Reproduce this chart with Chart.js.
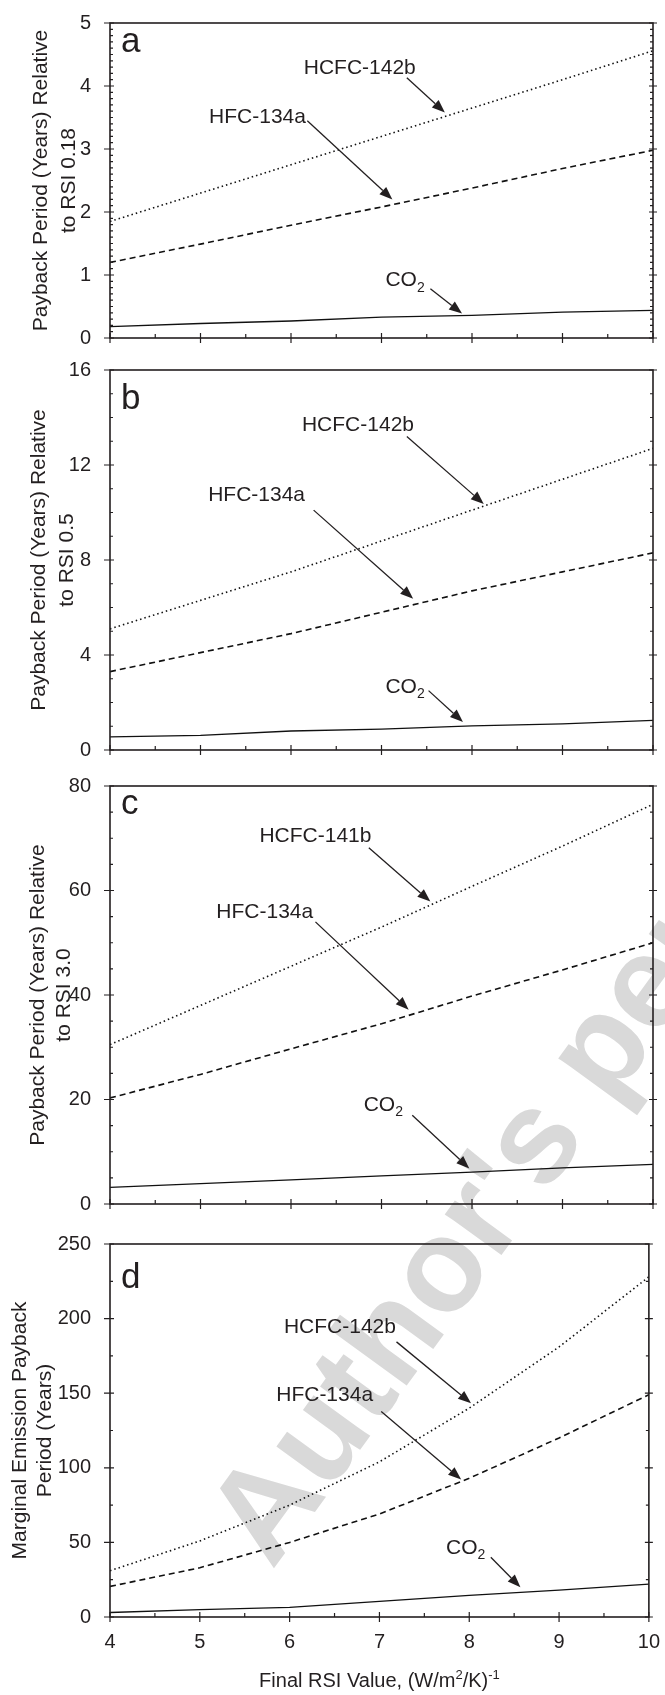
<!DOCTYPE html>
<html>
<head>
<meta charset="utf-8">
<script src="https://cdn.jsdelivr.net/npm/chart.js@4.4.1/dist/chart.umd.min.js"></script>
<style>
  html, body { margin: 0; padding: 0; background: #fff; width: 665px; height: 1695px; overflow: hidden; }
  canvas { position: absolute; left: 0; }
  #bg { top: 0; z-index: 0; }
  .panel { z-index: 1; }
</style>
</head>
<body>
<canvas id="bg" width="665" height="1695"></canvas>
<canvas id="ca" class="panel"></canvas>
<canvas id="cb" class="panel"></canvas>
<canvas id="cc" class="panel"></canvas>
<canvas id="cd" class="panel"></canvas>
<script>
// ---------- dados ----------
const rsiValues = [4, 5, 6, 7, 8, 9, 10];
const xTickLabels = [4, 5, 6, 7, 8, 9, 10];

const yTicksA = [0, 1, 2, 3, 4, 5];
const yTicksB = [0, 4, 8, 12, 16];
const yTicksC = [0, 20, 40, 60, 80];
const yTicksD = [0, 50, 100, 150, 200, 250];

const hcfcA = [1.85, 2.3, 2.75, 3.2, 3.65, 4.1, 4.56];
const hfcA  = [1.2, 1.49, 1.79, 2.08, 2.38, 2.69, 2.98];
const co2A  = [0.18, 0.23, 0.27, 0.33, 0.36, 0.41, 0.44];

const hcfcB = [5.1, 6.3, 7.5, 8.8, 10.1, 11.4, 12.7];
const hfcB  = [3.3, 4.1, 4.9, 5.8, 6.7, 7.5, 8.3];
const co2B  = [0.55, 0.62, 0.8, 0.88, 1.02, 1.1, 1.25];

const hcfcC = [30.5, 38, 45.5, 53, 60.8, 68.5, 76.5];
const hfcC  = [20.3, 24.8, 29.7, 34.5, 39.8, 44.8, 50];
const co2C  = [3.2, 3.9, 4.6, 5.4, 6.1, 6.9, 7.6];

const hcfcD = [31, 51, 75, 104, 140, 181, 228];
const hfcD  = [20.5, 33, 50, 69, 93, 120, 149];
const co2D  = [3, 5, 6.5, 10.5, 14.5, 18, 22];

const INK = '#231f20';
const FONT = "'Liberation Sans', Arial, sans-serif";

// ---------- painéis ----------
const panels = [
  { id: 'ca', top: 18, bottom: 341, yTicks: yTicksA, yMinor: 0.1, letter: 'a', letterBase: 29,
    title: ['Payback Period (Years) Relative', 'to RSI 0.18'], titleX: 41, titleLH: 28,
    series: [hcfcA, hfcA, co2A],
    notes: [
      { text: 'HCFC-142b', x: 6.76, y: 4.29, from: [7.28, 4.13], to: [7.70, 3.58] },
      { text: 'HFC-134a', x: 5.63, y: 3.50, from: [6.18, 3.45], to: [7.12, 2.20] },
      { text: 'CO', sub: '2', x: 7.26, y: 0.91, from: [7.54, 0.78], to: [7.89, 0.39] },
    ] },
  { id: 'cb', top: 369, bottom: 753, yTicks: yTicksB, yMinor: 1, letter: 'b', letterBase: 39,
    title: ['Payback Period (Years) Relative', 'to RSI 0.5'], titleX: 39, titleLH: 28,
    series: [hcfcB, hfcB, co2B],
    notes: [
      { text: 'HCFC-142b', x: 6.74, y: 13.68, from: [7.28, 13.2], to: [8.13, 10.36] },
      { text: 'HFC-134a', x: 5.62, y: 10.73, from: [6.25, 10.1], to: [7.35, 6.37] },
      { text: 'CO', sub: '2', x: 7.26, y: 2.63, from: [7.52, 2.5], to: [7.9, 1.18] },
    ] },
  { id: 'cc', top: 785, bottom: 1207, yTicks: yTicksC, yMinor: 5, letter: 'c', letterBase: 28,
    title: ['Payback Period (Years) Relative', 'to RSI 3.0'], titleX: 38, titleLH: 26,
    series: [hcfcC, hfcC, co2C],
    notes: [
      { text: 'HCFC-141b', x: 6.27, y: 70.4, from: [6.86, 68.2], to: [7.54, 57.9] },
      { text: 'HFC-134a', x: 5.71, y: 55.8, from: [6.27, 54.0], to: [7.30, 37.2] },
      { text: 'CO', sub: '2', x: 7.02, y: 18.9, from: [7.34, 17.0], to: [7.97, 6.8] },
    ] },
  { id: 'cd', top: 1243, bottom: 1617, yTicks: yTicksD, yMinor: 25, letter: 'd', letterBase: 44,
    title: ['Marginal Emission Payback', 'Period (Years)'], titleX: 20, titleLH: 25,
    series: [hcfcD, hfcD, co2D], last: true,
    notes: [
      { text: 'HCFC-142b', x: 6.56, y: 194.4, from: [7.19, 184.4], to: [8.02, 143.3] },
      { text: 'HFC-134a', x: 6.39, y: 148.9, from: [7.02, 137.8], to: [7.91, 92.2] },
      { text: 'CO', sub: '2', x: 7.96, y: 46, from: [8.24, 40], to: [8.57, 20] },
    ] },
];

const PLOT_LEFT = 110, PLOT_RIGHT = 653, PAGE_W = 665, PAGE_H = 1695;

// ---------- moldura, ticks menores, rótulos e setas ----------
function arrow(ctx, x0, y0, x1, y1) {
  const ang = Math.atan2(y1 - y0, x1 - x0);
  const len = 13, half = 5;
  const bx = x1 - len * Math.cos(ang), by = y1 - len * Math.sin(ang);
  ctx.beginPath();
  ctx.moveTo(x0, y0);
  ctx.lineTo(bx, by);
  ctx.lineWidth = 1.3;
  ctx.stroke();
  ctx.beginPath();
  ctx.moveTo(x1, y1);
  ctx.lineTo(bx + half * Math.sin(ang), by - half * Math.cos(ang));
  ctx.lineTo(bx - half * Math.sin(ang), by + half * Math.cos(ang));
  ctx.closePath();
  ctx.fill();
}

const framePlugin = {
  id: 'frame',
  afterDatasetsDraw(chart) {
    const p = chart.options.plugins.frame.panel;
    const { ctx, chartArea: ca, scales: { x, y } } = chart;
    ctx.save();
    ctx.strokeStyle = INK;
    ctx.fillStyle = INK;
    ctx.lineWidth = 1.6;
    ctx.strokeRect(ca.left, ca.top, ca.right - ca.left, ca.bottom - ca.top);

    ctx.lineWidth = 1.2;
    ctx.beginPath();
    // eixo x: maiores cruzando, menores para dentro
    for (let i = 0; i <= 12; i++) {
      const px = x.getPixelForValue(4 + i * 0.5);
      if (i % 2 === 0) { ctx.moveTo(px, ca.bottom - 5); ctx.lineTo(px, ca.bottom + 5); }
      else { ctx.moveTo(px, ca.bottom); ctx.lineTo(px, ca.bottom - 4); }
    }
    // eixos y esquerdo e direito
    const yMax = p.yTicks[p.yTicks.length - 1];
    const n = Math.round(yMax / p.yMinor);
    const majorStep = p.yTicks[1] - p.yTicks[0];
    for (let i = 0; i <= n; i++) {
      const v = i * p.yMinor;
      const py = y.getPixelForValue(v);
      const major = Math.abs(v / majorStep - Math.round(v / majorStep)) < 1e-6;
      if (major) {
        ctx.moveTo(ca.left - 6, py); ctx.lineTo(ca.left + 4, py);
        ctx.moveTo(ca.right - 4, py); ctx.lineTo(ca.right + 4, py);
      } else {
        ctx.moveTo(ca.left, py); ctx.lineTo(ca.left + 3, py);
        ctx.moveTo(ca.right, py); ctx.lineTo(ca.right - 3, py);
      }
    }
    ctx.stroke();

    // letra do painel
    ctx.font = '35px ' + FONT;
    ctx.textAlign = 'left';
    ctx.textBaseline = 'alphabetic';
    ctx.fillText(p.letter, ca.left + 11, ca.top + p.letterBase);

    // rótulos e setas
    for (const nt of p.notes) {
      const cx = x.getPixelForValue(nt.x), cy = y.getPixelForValue(nt.y);
      ctx.font = '21px ' + FONT;
      ctx.textBaseline = 'middle';
      if (nt.sub) {
        const w1 = ctx.measureText(nt.text).width;
        ctx.font = '14px ' + FONT;
        const w2 = ctx.measureText(nt.sub).width;
        const sx = cx - (w1 + w2) / 2;
        ctx.font = '21px ' + FONT;
        ctx.textAlign = 'left';
        ctx.fillText(nt.text, sx, cy);
        ctx.font = '14px ' + FONT;
        ctx.fillText(nt.sub, sx + w1, cy + 7);
      } else {
        ctx.textAlign = 'center';
        ctx.fillText(nt.text, cx, cy);
      }
      arrow(ctx, x.getPixelForValue(nt.from[0]), y.getPixelForValue(nt.from[1]),
                 x.getPixelForValue(nt.to[0]), y.getPixelForValue(nt.to[1]));
    }

    // título do eixo x (com sobrescritos)
    if (p.last) {
      const parts = [['Final RSI Value, (W/m', 0], ['2', 1], ['/K)', 0], ['-1', 1]];
      const big = '20px ' + FONT, small = '13px ' + FONT;
      let total = 0;
      for (const [t, s] of parts) { ctx.font = s ? small : big; total += ctx.measureText(t).width; }
      let tx = (ca.left + ca.right) / 2 - total / 2;
      const ty = ca.bottom + 70;
      ctx.textAlign = 'left';
      ctx.textBaseline = 'alphabetic';
      for (const [t, s] of parts) {
        ctx.font = s ? small : big;
        ctx.fillText(t, tx, s ? ty - 8 : ty);
        tx += ctx.measureText(t).width;
      }
    }
    ctx.restore();
  }
};

function lineSet(values, style) {
  return {
    data: rsiValues.map((v, i) => ({ x: v, y: values[i] })),
    borderColor: '#111',
    borderWidth: style === 'solid' ? 1.3 : 1.6,
    borderDash: style === 'dot' ? [1.5, 3] : style === 'dash' ? [6, 4] : [],
    pointRadius: 0,
    tension: 0,
    fill: false,
  };
}

for (const p of panels) {
  const canvasTop = Math.max(0, p.top - 22);
  const padTop = p.top - canvasTop;
  const padBottom = p.last ? PAGE_H - p.bottom : 20;
  const h = p.bottom - p.top + padTop + padBottom;
  const el = document.getElementById(p.id);
  el.width = PAGE_W; el.height = h;
  el.style.top = canvasTop + 'px';
  el.style.width = PAGE_W + 'px'; el.style.height = h + 'px';

  new Chart(el, {
    type: 'line',
    data: { datasets: [lineSet(p.series[0], 'dot'), lineSet(p.series[1], 'dash'), lineSet(p.series[2], 'solid')] },
    options: {
      responsive: false,
      animation: false,
      devicePixelRatio: 1,
      layout: { padding: { top: padTop, right: PAGE_W - PLOT_RIGHT, left: 0, bottom: 0 } },
      plugins: { legend: { display: false }, tooltip: { enabled: false }, frame: { panel: p } },
      scales: {
        x: {
          type: 'linear', min: 4, max: 10,
          grid: { display: false }, border: { display: false },
          afterBuildTicks: s => { s.ticks = xTickLabels.map(v => ({ value: v })); },
          afterFit: s => { s.height = padBottom; },
          ticks: { display: !!p.last, color: INK, font: { family: FONT, size: 20 }, padding: 5, maxRotation: 0 },
        },
        y: {
          min: 0, max: p.yTicks[p.yTicks.length - 1],
          grid: { display: false }, border: { display: false },
          afterBuildTicks: s => { s.ticks = p.yTicks.map(v => ({ value: v })); },
          afterFit: s => { s.width = PLOT_LEFT; },
          ticks: { color: INK, font: { family: FONT, size: 20 }, padding: 11 },
          title: {
            display: true, text: p.title, color: INK,
            font: { family: FONT, size: 21, lineHeight: p.titleLH / 21 },
            padding: { top: p.titleX - p.titleLH / 2, bottom: 0 },
          },
        },
      },
    },
    plugins: [framePlugin],
  });
}

// ---------- marca d'água ----------
const bg = document.getElementById('bg').getContext('2d');
bg.save();
bg.fillStyle = '#d9d9d9';
bg.font = "bold 132px " + FONT;
bg.translate(272, 1571);
bg.rotate(-54 * Math.PI / 180);
bg.fillText("Author's personal copy", 0, 0);
bg.restore();
</script>
</body>
</html>
